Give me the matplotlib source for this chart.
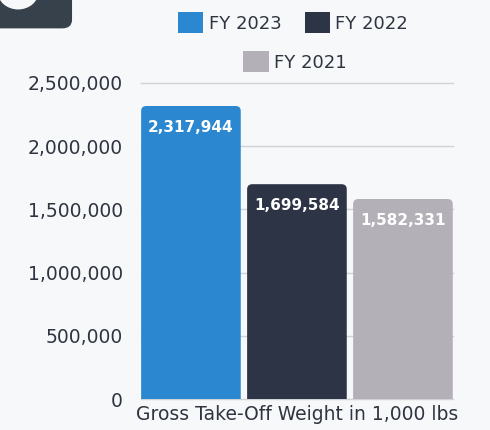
import matplotlib
matplotlib.use("Agg")
import matplotlib.pyplot as plt
from matplotlib.patches import FancyBboxPatch, Circle
from matplotlib.ticker import FuncFormatter

years = ["FY 2023", "FY 2022", "FY 2021"]
weights = [2317944, 1699584, 1582331]
colors = ["#2b88d0", "#2d3445", "#b3b0b7"]
yticks = [0, 500000, 1000000, 1500000, 2000000, 2500000]

BG = "#f7f8fa"
TXT = "#2f3540"

fig = plt.figure(figsize=(4.9, 4.3), dpi=100, facecolor=BG)
ax = fig.add_axes([0.288, 0.072, 0.636, 0.735], facecolor=BG)
ax.set_axisbelow(True)

xs = range(len(weights))
bars = ax.bar(xs, weights, width=0.94, color=colors, zorder=2, label=years)

# swap the square bars for ones with rounded top corners
for b in bars:
    b.set_visible(False)
    x0, w, h = b.get_x(), b.get_width(), b.get_height()
    rp = FancyBboxPatch((x0, -120000), w, h + 120000,
                        boxstyle="round,pad=0,rounding_size=0.05",
                        mutation_aspect=800000,
                        facecolor=b.get_facecolor(), edgecolor="none",
                        zorder=2)
    ax.add_patch(rp)

for b, v in zip(bars, weights):
    ax.text(b.get_x() + b.get_width() / 2, v - 170000, f"{v:,}",
            ha="center", va="center", color="white", fontsize=11,
            fontweight="bold", zorder=3)

ax.set_xlim(-0.47, 2.47)
ax.set_ylim(0, 2500000)
ax.set_yticks(yticks)
ax.yaxis.set_major_formatter(FuncFormatter(lambda v, p: f"{int(v):,}"))
ax.set_xticks([])
ax.grid(axis="y", color="#cfd2d6", linewidth=1.0, zorder=0)
for gl in ax.get_ygridlines():
    gl.set_clip_on(False)
for s in ax.spines.values():
    s.set_visible(False)
ax.tick_params(axis="y", length=0, pad=13, labelsize=13.5, labelcolor=TXT)
ax.set_xlabel("Gross Take-Off Weight in 1,000 lbs", fontsize=13.5,
              color=TXT, labelpad=4)

leg_kw = dict(frameon=False, fontsize=13, labelcolor=TXT, handlelength=1.4,
              handleheight=1.4, handletextpad=0.3, borderpad=0)
fig.legend(bars[:2], years[:2], ncol=2, columnspacing=1.3,
           loc="center", bbox_to_anchor=(0.598, 0.947), **leg_kw)
fig.legend(bars[2:], years[2:], loc="center",
           bbox_to_anchor=(0.602, 0.856), **leg_kw)
# legend handles should stay visible even though the bars were swapped
for lg in fig.legends:
    for h in lg.legend_handles:
        h.set_visible(True)

# cropped icon in the top-left corner
fig.patches.append(FancyBboxPatch((-0.05, 0.934), 0.197, 0.1,
                                  boxstyle="round,pad=0,rounding_size=0.02",
                                  transform=fig.transFigure,
                                  facecolor="#37414c", edgecolor="none"))
fig.patches.append(Circle((0.037, 1.02), 0.042, transform=fig.transFigure,
                          facecolor=BG, edgecolor="none"))

fig.savefig("out.png", dpi=100, facecolor=BG)
